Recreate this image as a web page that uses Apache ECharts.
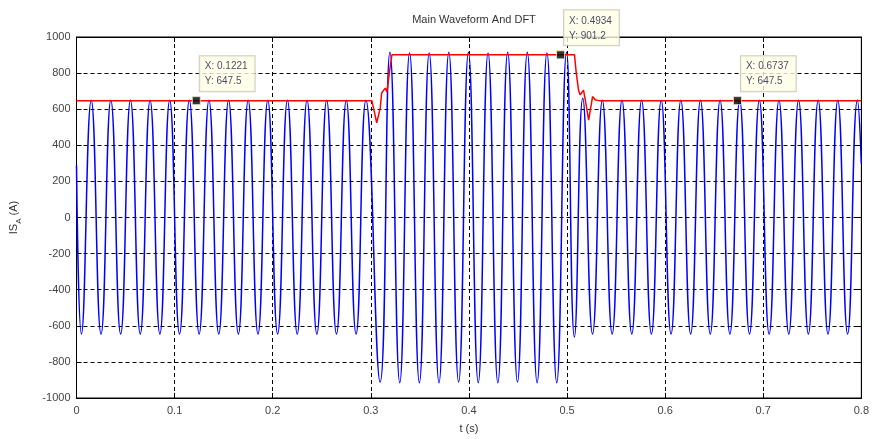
<!DOCTYPE html>
<html>
<head>
<meta charset="utf-8">
<title>Main Waveform And DFT</title>
<script src="https://cdn.jsdelivr.net/npm/echarts@6.0.0/dist/echarts.min.js"></script>
<style>
	body { margin: 0; background: #fff; }
</style>
</head>
<body>
	<div id="main" style="width: 872px; height: 439px;"></div>
	<script type="text/javascript">
		// waveform extremes (peaks / troughs)
		var waveTime = [
			0, 0.005, 0.015, 0.025, 0.035, 0.045, 0.055, 0.065, 0.075, 0.085, 0.095,
			0.105, 0.115, 0.125, 0.135, 0.145, 0.155, 0.165, 0.175, 0.185, 0.195,
			0.205, 0.215, 0.225, 0.235, 0.245, 0.255, 0.265, 0.275, 0.285, 0.295,
			0.3095, 0.3195, 0.3295, 0.3395, 0.3495, 0.3595, 0.3695, 0.3795, 0.3895, 0.3995,
			0.4095, 0.4195, 0.4295, 0.4395, 0.4495, 0.4595, 0.4695, 0.4795, 0.4895, 0.4995,
			0.5075, 0.516, 0.526, 0.536, 0.546, 0.556, 0.566, 0.576, 0.586, 0.596,
			0.606, 0.616, 0.626, 0.636, 0.646, 0.656, 0.666, 0.676, 0.686, 0.696,
			0.706, 0.716, 0.726, 0.736, 0.746, 0.756, 0.766, 0.776, 0.786, 0.796, 0.8
		];
		var waveValue = [
			290, -645, 650, -645, 650, -645, 650, -645, 650, -645, 650,
			-645, 650, -645, 650, -645, 650, -645, 650, -645, 650,
			-645, 650, -645, 650, -645, 650, -645, 650, -645, 650,
			-912, 915, -915, 912, -915, 912, -915, 915, -912, 915,
			-915, 912, -915, 915, -912, 915, -915, 912, -915, 915,
			-662, 660, -645, 650, -645, 650, -645, 650, -645, 650,
			-645, 650, -645, 650, -645, 650, -645, 650, -645, 650,
			-645, 650, -645, 650, -645, 650, -645, 650, -645, 650, 300
		];
		// DFT magnitude
		var dftTime = [0, 0.301, 0.303, 0.306, 0.3096, 0.311, 0.3147, 0.3164, 0.319, 0.3215,
			0.5076, 0.5093, 0.5117, 0.5134, 0.5168, 0.5195, 0.522, 0.5246, 0.526, 0.529, 0.533, 0.8];
		var dftValue = [647.5, 647.5, 600, 524, 607, 690, 717, 695, 806, 901.2,
			901.2, 806, 706, 679, 706, 623, 540, 623, 670, 651, 647.5, 647.5];
		// data tips
		var tipTime = [0.1221, 0.4934, 0.6737];
		var tipValue = [647.5, 901.2, 647.5];
		var xTicks = ['0', '0.1', '0.2', '0.3', '0.4', '0.5', '0.6', '0.7', '0.8'];

		function pairs(a, b) {
			var out = [];
			for (var i = 0; i < a.length; i++) {
				out.push([a[i], b[i]]);
			}
			return out;
		}

		var myChart = echarts.init(document.getElementById('main'));
		var font = 'Arial, "Liberation Sans", sans-serif';
		var gridLine = { show: true, lineStyle: { color: '#000', type: [4, 3], width: 1 } };

		var option = {
			animation: false,
			backgroundColor: '#fff',
			title: {
				text: 'Main Waveform And DFT',
				left: 469,
				textAlign: 'center',
				top: 9,
				textStyle: { fontSize: 11, fontWeight: 'normal', color: '#333', fontFamily: font }
			},
			grid: { left: 75, right: 9, top: 37, bottom: 41, show: true, borderColor: '#000', borderWidth: 1 },
			xAxis: [{
				type: 'value',
				min: 0,
				max: 0.8,
				interval: 0.1,
				name: 't (s)',
				nameLocation: 'middle',
				nameGap: 25,
				nameTextStyle: { fontSize: 11, color: '#333', fontFamily: font },
				axisLine: { onZero: false, lineStyle: { color: '#000', width: 1 } },
				axisTick: { inside: true, length: 5, lineStyle: { color: '#000' } },
				axisLabel: {
					fontSize: 11, color: '#444', fontFamily: font, margin: 7,
					formatter: function (v) { return xTicks[Math.round(v * 10)]; }
				},
				splitLine: gridLine
			}, {
				type: 'value', position: 'top', min: 0, max: 0.8, interval: 0.1,
				axisLine: { show: true, onZero: false, lineStyle: { color: '#000' } },
				axisTick: { inside: true, length: 5, lineStyle: { color: '#000' } },
				axisLabel: { show: false },
				splitLine: { show: false }
			}],
			yAxis: [{
				type: 'value',
				min: -1000,
				max: 1000,
				interval: 200,
				name: 'IS{sub|A} (A)',
				nameLocation: 'middle',
				nameRotate: 90,
				nameGap: 54,
				nameTextStyle: {
					fontSize: 11, color: '#333', fontFamily: font,
					rich: {
						sub: { fontSize: 8, color: '#333', fontFamily: font, verticalAlign: 'bottom', lineHeight: 18 }
					}
				},
				axisLine: { show: true, onZero: false, lineStyle: { color: '#000', width: 1 } },
				axisTick: { show: true, inside: true, length: 5, lineStyle: { color: '#000' } },
				axisLabel: {
					fontSize: 11, color: '#444', fontFamily: font, margin: 6,
					formatter: function (v) { return String(v); }
				},
				splitLine: gridLine
			}, {
				type: 'value', position: 'right', min: -1000, max: 1000, interval: 200,
				axisLine: { show: true, onZero: false, lineStyle: { color: '#000' } },
				axisTick: { show: true, inside: true, length: 5, lineStyle: { color: '#000' } },
				axisLabel: { show: false },
				splitLine: { show: false }
			}],
			series: [{
				name: 'waveform',
				type: 'line',
				data: pairs(waveTime, waveValue),
				smooth: 0.5,
				symbol: 'none',
				lineStyle: { color: '#0000ff', width: 1.5 },
				z: 2
			}, {
				name: 'DFT',
				type: 'line',
				data: pairs(dftTime, dftValue),
				symbol: 'none',
				lineStyle: { color: '#ff0000', width: 1.5 },
				z: 3
			}, {
				name: 'tips',
				type: 'scatter',
				data: pairs(tipTime, tipValue),
				symbol: 'rect',
				symbolSize: 8,
				itemStyle: { color: '#000', borderColor: '#e8e8d0', borderWidth: 1 },
				label: {
					show: true,
					position: [8, -40],
					formatter: function (p) { return 'X: ' + p.value[0] + '\nY: ' + p.value[1]; },
					fontSize: 10,
					lineHeight: 15,
					color: '#1a1a40',
					fontFamily: font,
					backgroundColor: '#ffffe6',
					borderColor: '#c0c0b0',
					borderWidth: 1,
					padding: [3, 7, 2, 5]
				},
				z: 5
			}]
		};
		myChart.setOption(option);
	</script>
</body>
</html>
